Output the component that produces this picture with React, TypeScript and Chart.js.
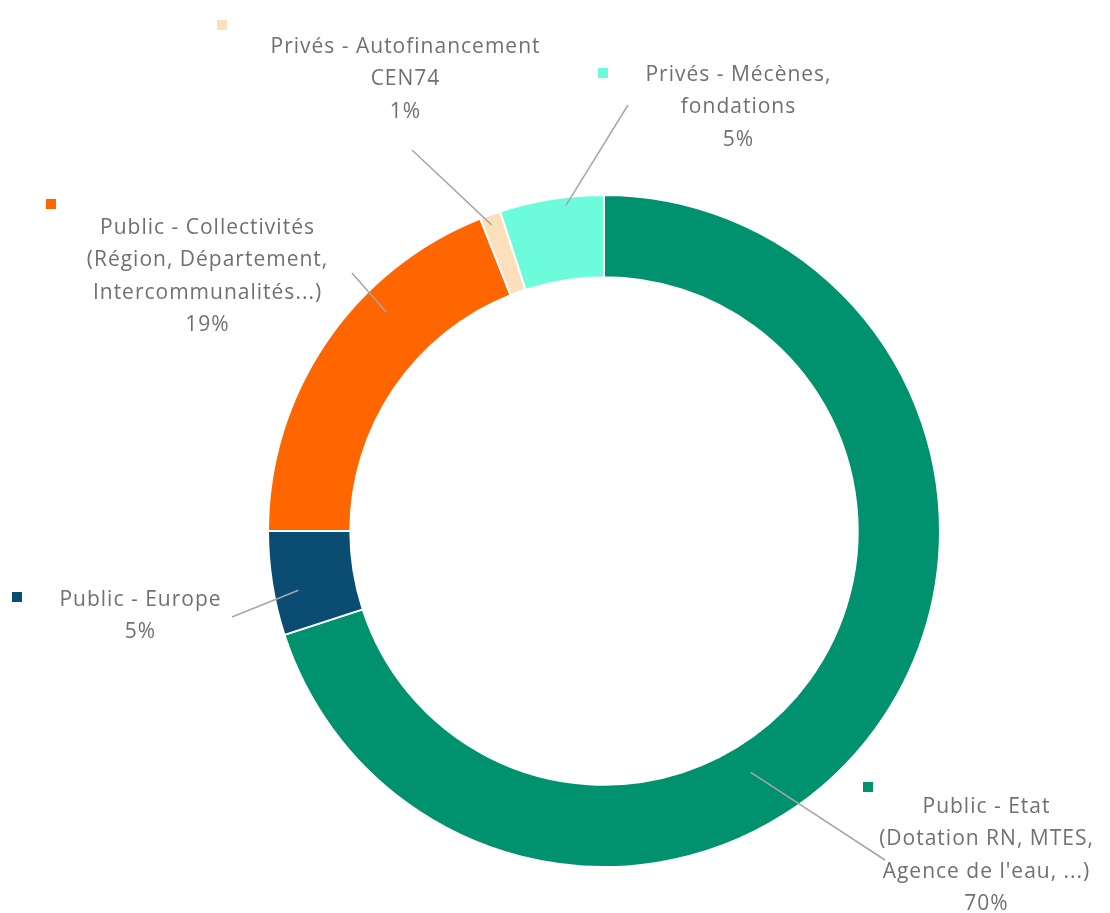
import React, { useEffect, useRef } from "react";
import { Chart, registerables } from "chart.js";

Chart.register(...registerables);

const categories = [
  ["Public - Etat", "(Dotation RN, MTES,", "Agence de l'eau, ...)"],
  ["Public - Europe"],
  ["Public - Collectivités", "(Région, Département,", "Intercommunalités...)"],
  ["Privés - Autofinancement", "CEN74"],
  ["Privés - Mécènes,", "fondations"],
];
const values = [70, 5, 19, 1, 5];
const colors = ["#00916E", "#0B4C72", "#FF6600", "#FCE0BC", "#6CFCDC"];

// label layout relative to the doughnut centre (px)
const labelLayout = [
  { tx: 382, ty: 276, mx: 264, my: 256, lx: 281, ly: 329, frac: 0.59, rfrac: 0.35 },
  { tx: -464, ty: 69, mx: -587, my: 66, lx: -372, ly: 86, frac: 0.39, rfrac: 0.7 },
  { tx: -397, ty: -303, mx: -553, my: -327, lx: -252, ly: -258, frac: 0.66, rfrac: 0.67 },
  { tx: -199, ty: -484, mx: -382, my: -506, lx: -192, ly: -381, frac: 0.4, rfrac: 0.88 },
  { tx: 134, ty: -456, mx: -1, my: -458, lx: 24, ly: -426, frac: 0.63, rfrac: 0.9 },
];

const outsideLabels = {
  id: "outsideLabels",
  afterDatasetsDraw(chart: any) {
    const ctx = chart.ctx;
    const meta = chart.getDatasetMeta(0);
    const data = chart.data.datasets[0].data as number[];
    const total = data.reduce((a, b) => a + b, 0);
    ctx.save();
    meta.data.forEach((arc: any, i: number) => {
      const p = arc.getProps(["x", "y", "startAngle", "endAngle", "innerRadius", "outerRadius"], true);
      const L = labelLayout[i];
      const cx = p.x, cy = p.y;
      const ang = p.startAngle + L.frac * (p.endAngle - p.startAngle);
      const r = p.innerRadius + L.rfrac * (p.outerRadius - p.innerRadius);
      const ex = cx + Math.cos(ang) * r;
      const ey = cy + Math.sin(ang) * r;
      // leader line
      ctx.strokeStyle = "#A6A6A6";
      ctx.lineWidth = 1.5;
      ctx.beginPath();
      ctx.moveTo(cx + L.lx, cy + L.ly);
      ctx.lineTo(ex, ey);
      ctx.stroke();
      // marker
      ctx.fillStyle = colors[i];
      ctx.fillRect(cx + L.mx - 5, cy + L.my - 5, 10, 10);
      // text
      const lines = [...(chart.data.labels[i] as string[]), `${Math.round((data[i] / total) * 100)}%`];
      ctx.fillStyle = "#707070";
      ctx.font = '21px "Open Sans", Lato, sans-serif';
      (ctx as any).letterSpacing = "1px";
      ctx.textAlign = "center";
      ctx.textBaseline = "middle";
      lines.forEach((t, k) => {
        ctx.fillText(t, cx + L.tx + 0.5, cy + L.ty + k * 32.5);
      });
    });
    ctx.restore();
  },
};

export default function App() {
  const ref = useRef<HTMLCanvasElement>(null);
  useEffect(() => {
    if (!ref.current) return;
    const chart = new Chart(ref.current, {
      type: "doughnut",
      data: {
        labels: categories as any,
        datasets: [
          {
            data: values,
            backgroundColor: colors,
            borderColor: "#ffffff",
            borderWidth: 2,
          },
        ],
      },
      options: {
        responsive: false,
        animation: false,
        cutout: "75.5%",
        layout: { padding: { top: 194, bottom: 45, left: 267, right: 169 } },
        plugins: { legend: { display: false }, tooltip: { enabled: false } },
      },
      plugins: [outsideLabels],
    });
    return () => chart.destroy();
  }, []);
  return (
    <div style={{ position: "absolute", left: 0, top: 0, width: 1110, height: 913, background: "#fff" }}>
      <canvas ref={ref} width={1110} height={913} />
    </div>
  );
}
